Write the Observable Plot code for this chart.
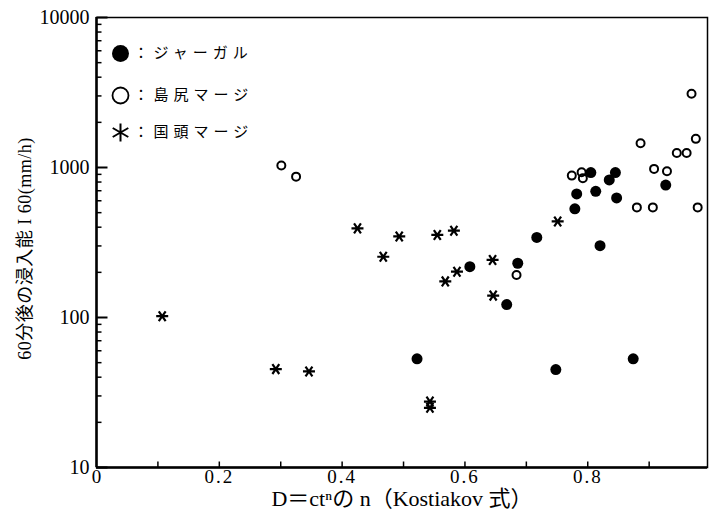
<!DOCTYPE html>
<html><head><meta charset="utf-8">
<script src="https://cdn.jsdelivr.net/npm/d3@7"></script>
<script src="https://cdn.jsdelivr.net/npm/@observablehq/plot@0.6"></script>
<style>
body{margin:0;background:#fff;}
#chart svg{display:block;}
</style></head><body><div id="chart"></div>
<script>
// ジャーガル (filled circles): n, I60
const jagaruN = [0.522,0.608,0.668,0.686,0.717,0.748,0.779,0.782,0.805,0.813,0.820,0.835,0.845,0.847,0.874,0.927];
const jagaruI = [53,218,122,230,342,45,530,667,925,694,301,826,925,627,53,763];
// 島尻マージ (open circles)
const shimaN = [0.301,0.325,0.684,0.774,0.790,0.792,0.880,0.886,0.906,0.908,0.929,0.945,0.961,0.969,0.976,0.979];
const shimaI = [1030,869,192,883,929,847,542,1450,542,979,944,1250,1250,3098,1552,542];
// 国頭マージ (asterisks)
const kuniN = [0.107,0.292,0.346,0.425,0.467,0.493,0.543,0.543,0.555,0.568,0.582,0.587,0.645,0.646,0.751];
const kuniI = [102,45.3,43.7,393,254,347,27.5,25,355,174,379,202,242,140,437];

const yTicks = [10,100,1000,10000];
const yMinor = [20,30,40,50,60,70,80,90,200,300,400,500,600,700,800,900,2000,3000,4000,5000,6000,7000,8000,9000];
const xTicks = [0,0.2,0.4,0.6,0.8];
const xTickLabels = ["0","0.2","0.4","0.6","0.8"];
const xMinor = [0.1,0.2,0.3,0.4,0.5,0.6,0.7,0.8,0.9];
const legendLabels = ["：ジャーガル","：島尻マージ","：国頭マージ"];
const xTitle = "D＝ctⁿの n（Kostiakov 式）";
const yTitle = "60分後の浸入能 I 60(mm/h)";

const W = 712, H = 514;
const mL = 96, mR = 5, mT = 17, mB = 47;
const plotW = W - mL - mR, plotH = H - mT - mB;
const xMax = 0.995;
// tick lengths (pixels) converted to data units for rules
const tickLenX = px => px * xMax / plotW;
const tickEndY = px => 10 * Math.pow(10, px * 3 / plotH);

const toRows = (xs, ys) => xs.map((x, i) => ({n: x, v: ys[i]}));
const jagaru = toRows(jagaruN, jagaruI);
const shima = toRows(shimaN, shimaI);
const kuni = toRows(kuniN, kuniI);
const yMajorRows = yTicks.map(v => ({v, x1: 0, x2: tickLenX(11)}));
const yMinorRows = yMinor.map(v => ({v, x1: 0, x2: tickLenX(5)}));
const xMinorRows = xMinor.map(n => ({n, y1: 10, y2: tickEndY(6)}));

function starSymbol(angles) {
  return {
    draw(ctx, size) {
      const r = Math.sqrt(size / Math.PI);
      for (const a of angles) {
        const t = a * Math.PI / 180;
        ctx.moveTo(r * Math.cos(t), r * Math.sin(t));
        ctx.lineTo(-r * Math.cos(t), -r * Math.sin(t));
      }
    }
  };
}
const dataStar = starSymbol([0, 55, 125]);
const legendStar = starSymbol([90, 30, 150]);

const legendFont = "'Noto Sans CJK JP', sans-serif";
const legendText = (label, dy) => Plot.text([label], {frameAnchor: "top-left", dx: 37, dy, text: d => d, fontSize: 15, textAnchor: "start", lineAnchor: "middle", fontFamily: legendFont});

const chart = Plot.plot({
  width: W, height: H,
  marginLeft: mL, marginRight: mR, marginTop: mT, marginBottom: mB,
  style: {fontFamily: "'Liberation Serif', 'Noto Sans CJK JP', serif", background: "white", color: "black"},
  x: {domain: [0, xMax], axis: null},
  y: {type: "log", domain: [10, 10000], axis: null},
  marks: [
    Plot.frame({stroke: "black", strokeWidth: 1.5}),
    Plot.ruleX([0], {stroke: "black", strokeWidth: 2.5}),
    Plot.ruleY([10], {stroke: "black", strokeWidth: 2.5}),
    Plot.link(yMajorRows, {x1: "x1", x2: "x2", y1: "v", y2: "v", stroke: "black", strokeWidth: 2}),
    Plot.link(yMinorRows, {x1: "x1", x2: "x2", y1: "v", y2: "v", stroke: "black", strokeWidth: 1.5}),
    Plot.link(xMinorRows, {x1: "n", x2: "n", y1: "y1", y2: "y2", stroke: "black", strokeWidth: 1.5}),
    Plot.axisY({ticks: yTicks, tickSize: 0, tickPadding: 7, tickFormat: d => String(d), fontSize: 20, label: null}),
    Plot.axisX({ticks: xTicks, tickSize: 0, tickPadding: 2, tickFormat: d => xTickLabels[xTicks.indexOf(d)], fontSize: 19, label: null}),
    Plot.dot(jagaru, {x: "n", y: "v", r: 5.5, fill: "black", stroke: "none"}),
    Plot.dot(shima, {x: "n", y: "v", r: 4, fill: "none", stroke: "black", strokeWidth: 2}),
    Plot.dot(kuni, {x: "n", y: "v", r: 6, symbol: dataStar, fill: "none", stroke: "black", strokeWidth: 2.2}),
    // legend
    Plot.dot([0], {frameAnchor: "top-left", dx: 24, dy: 36, r: 8.5, fill: "black", stroke: "none"}),
    Plot.dot([0], {frameAnchor: "top-left", dx: 24, dy: 78, r: 8, fill: "none", stroke: "black", strokeWidth: 1.8}),
    Plot.dot([0], {frameAnchor: "top-left", dx: 24, dy: 115, r: 9, symbol: legendStar, fill: "none", stroke: "black", strokeWidth: 2}),
    legendText(legendLabels[0], 36),
    legendText(legendLabels[1], 78),
    legendText(legendLabels[2], 115),
    Plot.text([xTitle], {frameAnchor: "bottom", dy: 31, fontSize: 22, text: d => d, textAnchor: "middle", lineAnchor: "middle"}),
    Plot.text([yTitle], {frameAnchor: "left", rotate: -90, dx: -71, dy: 6, fontSize: 18, text: d => d, textAnchor: "middle", lineAnchor: "middle"})
  ]
});
// letter spacing to mimic the original typesetting
const sel = d3.select(chart);
sel.selectAll("text").filter(function() { return legendLabels.includes(this.textContent); }).style("letter-spacing", "5px");
sel.selectAll("text").filter(function() { return xTickLabels.includes(this.textContent) && this.textContent !== "0"; }).style("letter-spacing", "2px");
sel.selectAll("text").filter(function() { return this.textContent === yTitle; }).style("letter-spacing", "0.5px");
document.getElementById("chart").appendChild(chart);
</script>
</body></html>
